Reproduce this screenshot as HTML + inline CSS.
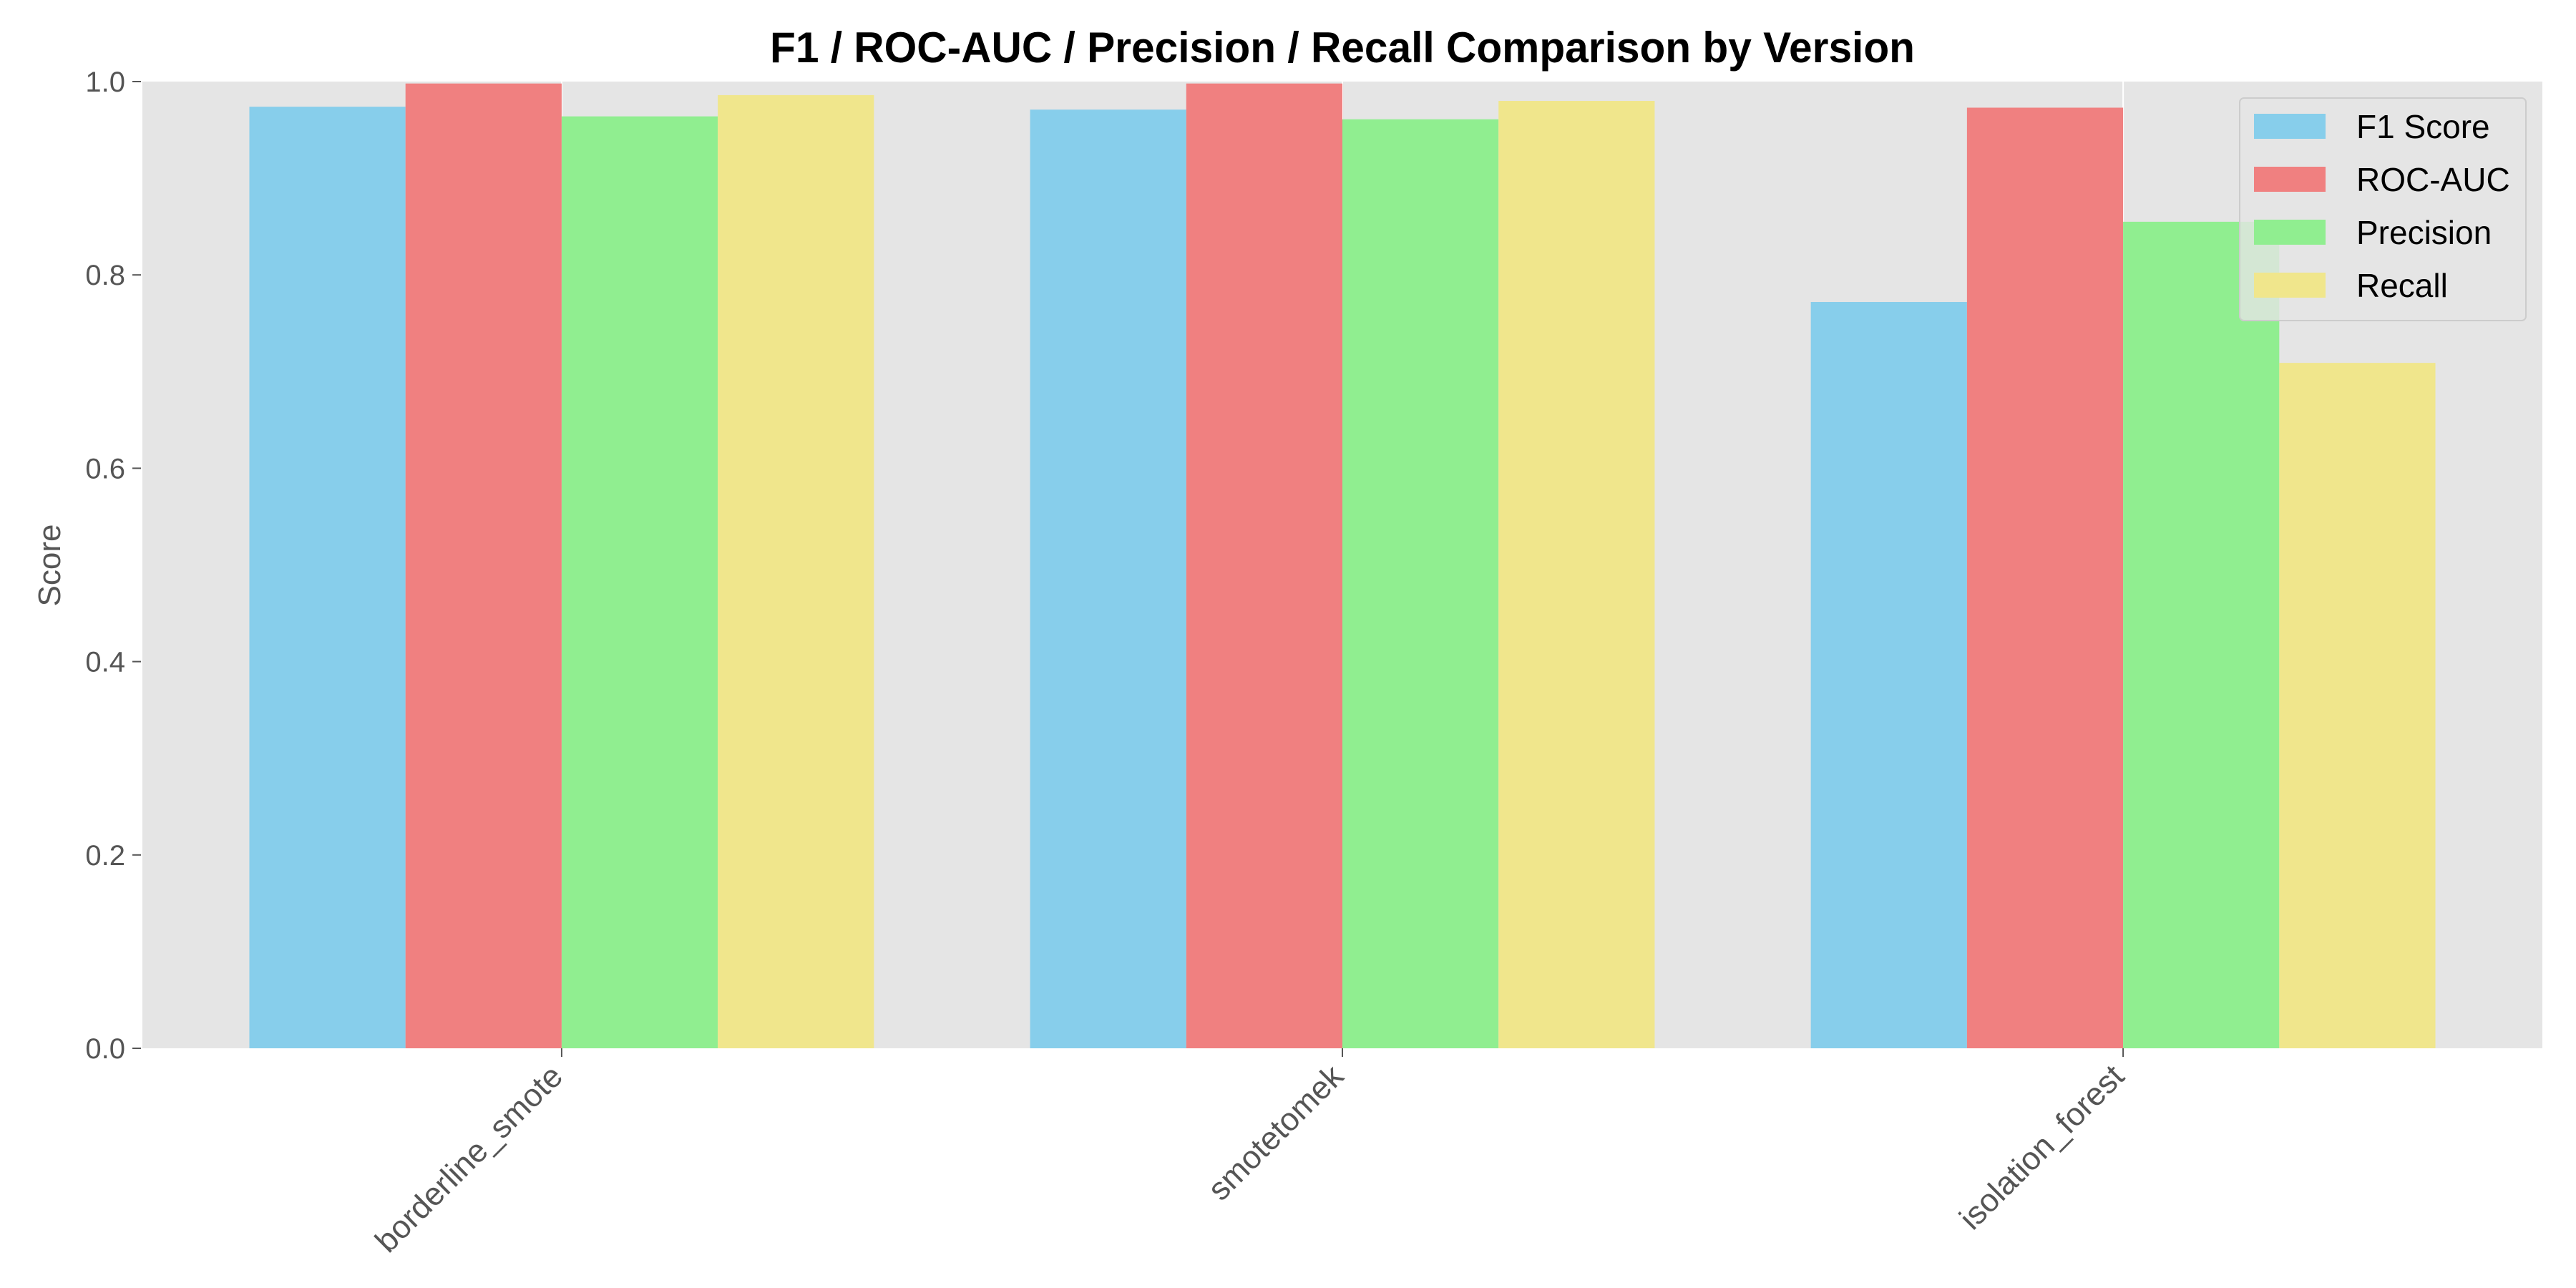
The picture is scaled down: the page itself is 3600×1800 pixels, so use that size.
<!DOCTYPE html>
<html><head><meta charset="utf-8"><style>body{margin:0;background:#fff}svg{display:block}text{font-family:"Liberation Sans",sans-serif}</style></head>
<body>
<svg id="chart" width="3600" height="1800" viewBox="0 0 3600 1800" xmlns="http://www.w3.org/2000/svg">
<rect x="199" y="114" width="3354" height="1351" fill="#e5e5e5"/>
<g id="grid"></g><g id="bars"></g><g id="axes"></g>
<text x="1876" y="87" text-anchor="middle" font-size="60" font-weight="bold" textLength="1600" lengthAdjust="spacingAndGlyphs">F1 / ROC-AUC / Precision / Recall Comparison by Version</text>
<text transform="translate(84,790) rotate(-90)" text-anchor="middle" font-size="44" fill="#555">Score</text>
<g>
<rect x="3130" y="137" width="400" height="311" rx="6" fill="#e5e5e5" fill-opacity="0.8" stroke="#cccccc" stroke-width="2"/>
<g id="legend"></g>
</g>
</svg>
<script>
const categories = ["borderline_smote","smotetomek","isolation_forest"];
const seriesNames = ["F1 Score","ROC-AUC","Precision","Recall"];
const f1 = [0.974,0.971,0.772];
const rocAuc = [0.998,0.998,0.973];
const precision = [0.964,0.961,0.855];
const recall = [0.986,0.980,0.709];
const yTicks = ["0.0","0.2","0.4","0.6","0.8","1.0"];
const colors = ["#87ceeb","#f08080","#90ee90","#f0e68c"];
const series=[f1,rocAuc,precision,recall];
const NS="http://www.w3.org/2000/svg";
const L=199,R=3553,T=114,B=1465,xmin=-0.537,xmax=2.537;
const xs=v=>L+(v-xmin)/(xmax-xmin)*(R-L);
const ys=v=>B-v*(B-T);
function mk(tag,attrs,parent){const e=document.createElementNS(NS,tag);for(const k in attrs)e.setAttribute(k,attrs[k]);document.getElementById(parent).appendChild(e);return e;}
const bw=0.2;
categories.forEach((c,i)=>{
  const g=mk('line',{x1:xs(i),x2:xs(i),y1:T,y2:B,stroke:'#fff','stroke-width':2},'grid');
  
  
  series.forEach((s,j)=>{
    const x0=xs(i+(j-2)*bw),x1=xs(i+(j-1)*bw);
    const r=mk('rect',{x:x0,y:ys(s[i]),width:x1-x0,height:ys(0)-ys(s[i]),fill:colors[j]},'bars');
    
    
  });
  const t=mk('line',{x1:xs(i),x2:xs(i),y1:B,y2:B+12,stroke:'#555','stroke-width':2},'axes');
  
  
  const lb=mk('text',{transform:`translate(${xs(i)+4},${B+42}) rotate(-45)`,'text-anchor':'end','font-size':'45',fill:'#555'},'axes');
  lb.textContent=c;
  
  
});
yTicks.forEach(v=>{
  const y=ys(parseFloat(v));
  const t=mk('line',{x1:L-14,x2:L-2,y1:y,y2:y,stroke:'#555','stroke-width':2},'axes');
  
  
  const lb=mk('text',{x:L-24,y:y+14,'text-anchor':'end','font-size':'40',fill:'#555'},'axes');
  lb.textContent=v;
  
  
});
seriesNames.forEach((n,j)=>{
  const y=159+j*74;
  const p=mk('rect',{x:3150,y:y,width:100,height:35,fill:colors[j]},'legend');
  
  
  const t=mk('text',{x:3293,y:y+34,'font-size':'46',fill:'#000'},'legend');
  t.textContent=n;
  
  
});
</script>
</body></html>
